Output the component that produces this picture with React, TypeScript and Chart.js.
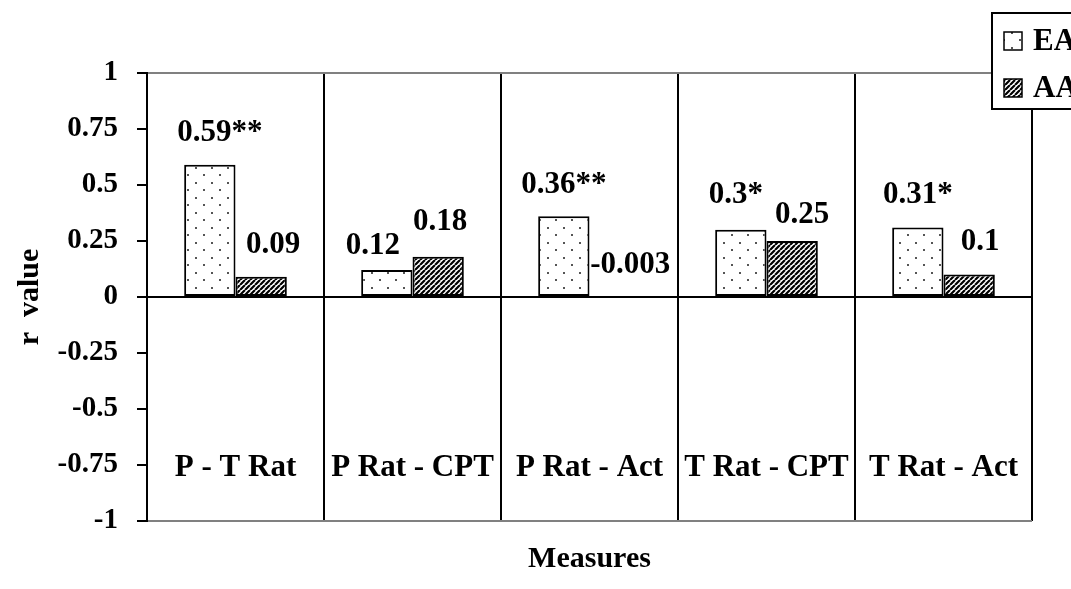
import React, { useEffect, useRef } from "react";
import { Chart, registerables } from "chart.js";

Chart.register(...registerables);

const categories = ["P - T Rat", "P Rat - CPT", "P Rat - Act", "T Rat - CPT", "T Rat - Act"];
const seriesNames = ["EA", "AA"];
const eaValues = [0.59, 0.12, 0.36, 0.3, 0.31];
const aaValues = [0.09, 0.18, -0.003, 0.25, 0.1];
const eaLabels = ["0.59**", "0.12", "0.36**", "0.3*", "0.31*"];
const aaLabels = ["0.09", "0.18", "-0.003", "0.25", "0.1"];
const yTicks = [-1, -0.75, -0.5, -0.25, 0, 0.25, 0.5, 0.75, 1];
const yTickLabels = ["-1", "-0.75", "-0.5", "-0.25", "0", "0.25", "0.5", "0.75", "1"];
const xTitle = "Measures";
const yTitle = "r  value";

// label nudges relative to bar top: [dx, distance above]
const eaLabelNudge = [[10, 32], [-14, 24], [0, 31], [-5, 35], [0, 33]];
const aaLabelNudge = [[12, 32], [2, 35], [15, 33], [10, 26], [11, 33]];

const FONT = '"Liberation Serif", "Times New Roman", Times, serif';

function makeDots(): CanvasPattern {
  const c = document.createElement("canvas");
  c.width = 16;
  c.height = 15;
  const g = c.getContext("2d")!;
  g.fillStyle = "#fff";
  g.fillRect(0, 0, 16, 15);
  g.fillStyle = "#555";
  g.fillRect(3, 2, 2, 2);
  g.fillRect(11, 9, 2, 2);
  return g.createPattern(c, "repeat")!;
}

function makeHatch(): CanvasPattern {
  const s = 5;
  const c = document.createElement("canvas");
  c.width = s;
  c.height = s;
  const g = c.getContext("2d")!;
  g.fillStyle = "#fff";
  g.fillRect(0, 0, s, s);
  g.strokeStyle = "#000";
  g.lineWidth = 2.2;
  g.beginPath();
  for (const o of [-s, 0, s]) {
    g.moveTo(o, s);
    g.lineTo(o + s, 0);
  }
  g.stroke();
  return g.createPattern(c, "repeat")!;
}

const labelPlugin = {
  id: "barLabels",
  afterDatasetsDraw(chart: any) {
    const ctx = chart.ctx;
    ctx.save();
    ctx.font = `bold 31px ${FONT}`;
    ctx.fillStyle = "#000";
    ctx.textAlign = "center";
    ctx.textBaseline = "middle";
    const labels = [eaLabels, aaLabels];
    const nudges = [eaLabelNudge, aaLabelNudge];
    chart.data.datasets.forEach((_: any, i: number) => {
      const meta = chart.getDatasetMeta(i);
      meta.data.forEach((el: any, j: number) => {
        const { x, y, base } = el.getProps(["x", "y", "base"], true);
        const top = Math.min(y, base);
        ctx.fillText(labels[i][j], x + nudges[i][j][0], top - nudges[i][j][1]);
      });
    });
    ctx.restore();
  },
};

const legendPlugin = {
  id: "boxLegend",
  afterDraw(chart: any) {
    const ctx = chart.ctx;
    ctx.save();
    ctx.fillStyle = "#fff";
    ctx.fillRect(992, 13, 120, 96);
    ctx.strokeStyle = "#000";
    ctx.lineWidth = 2;
    ctx.strokeRect(992, 13, 120, 96);
    const rows = [41, 88];
    chart.data.datasets.forEach((ds: any, i: number) => {
      const cy = rows[i];
      ctx.fillStyle = ds.backgroundColor;
      ctx.fillRect(1004, cy - 9, 18, 18);
      ctx.lineWidth = 1.5;
      ctx.strokeStyle = "#000";
      ctx.strokeRect(1004, cy - 9, 18, 18);
      ctx.fillStyle = "#000";
      ctx.font = `bold 31px ${FONT}`;
      ctx.textAlign = "left";
      ctx.textBaseline = "middle";
      ctx.fillText(ds.label, 1033, cy + 1);
    });
    ctx.restore();
  },
};

export default function App() {
  const ref = useRef<HTMLCanvasElement>(null);
  useEffect(() => {
    const dots = makeDots();
    const hatch = makeHatch();
    const chart = new Chart(ref.current!, {
      type: "bar",
      data: {
        labels: categories,
        datasets: [
          {
            label: seriesNames[0],
            data: eaValues,
            backgroundColor: dots as any,
            borderColor: "#000",
            borderWidth: 2,
            borderSkipped: false,
            categoryPercentage: 0.58,
            barPercentage: 1,
          },
          {
            label: seriesNames[1],
            data: aaValues,
            backgroundColor: hatch as any,
            borderColor: "#000",
            borderWidth: 2,
            borderSkipped: false,
            categoryPercentage: 0.58,
            barPercentage: 1,
          },
        ],
      },
      options: {
        responsive: false,
        animation: false,
        layout: { padding: { left: 0, top: 73, right: 39, bottom: 0 } },
        plugins: {
          legend: { display: false },
          tooltip: { enabled: false },
          title: {
            display: true,
            text: xTitle,
            position: "bottom",
            fullSize: false,
            color: "#000",
            font: { family: FONT, size: 30, weight: "bold" },
            padding: { top: 20, bottom: 12 },
          },
        },
        scales: {
          x: {
            type: "category",
            position: { y: -0.68 } as any,
            offset: true,
            grid: {
              offset: true,
              drawTicks: false,
              lineWidth: 2,
              color: (c: any) => (c.index === categories.length ? "#808080" : "#000"),
            },
            border: { display: false },
            ticks: {
              color: "#000",
              font: { family: FONT, size: 31, weight: "bold" },
              padding: 0,
              maxRotation: 0,
              autoSkip: false,
            },
          },
          y: {
            type: "linear",
            min: -1,
            max: 1,
            afterBuildTicks: (s: any) => {
              s.ticks = yTicks.map((v) => ({ value: v }));
            },
            afterFit: (s: any) => {
              s.width = 147;
            },
            ticks: {
              color: "#000",
              font: { family: FONT, size: 29, weight: "bold" },
              padding: 19,
              callback: (_v: any, i: number) => yTickLabels[i],
            },
            grid: {
              lineWidth: 2,
              tickLength: 10,
              tickColor: "#000",
              color: (c: any) =>
                c.tick && c.tick.value === 0
                  ? "#000"
                  : c.tick && Math.abs(c.tick.value) === 1
                  ? "#808080"
                  : "rgba(0,0,0,0)",
            },
            border: { color: "#000", width: 2 },
            title: {
              display: true,
              text: yTitle,
              color: "#000",
              font: { family: FONT, size: 30, weight: "bold" },
              padding: { top: 12, bottom: 0 },
            },
          },
        },
      },
      plugins: [labelPlugin, legendPlugin],
    });
    return () => chart.destroy();
  }, []);
  return (
    <div style={{ position: "fixed", left: 0, top: 0, width: 1071, height: 589, background: "#fff", overflow: "hidden" }}>
      <canvas ref={ref} width={1071} height={589} style={{ display: "block", width: 1071, height: 589 }} />
    </div>
  );
}
